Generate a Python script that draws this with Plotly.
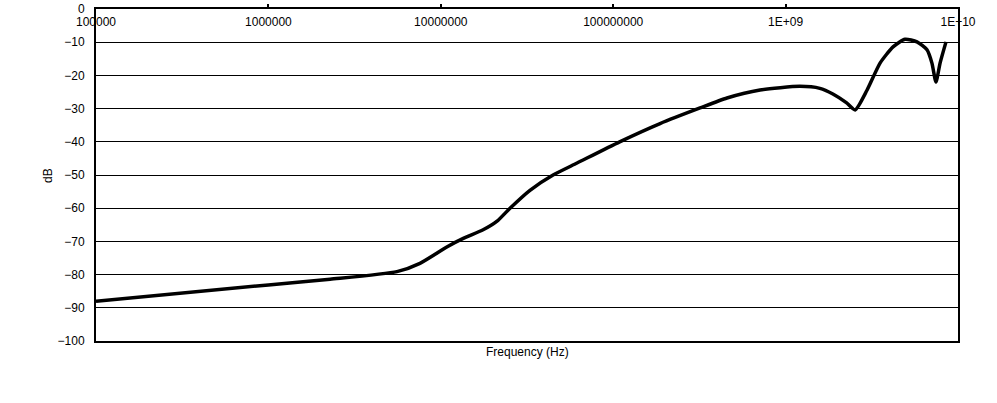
import plotly.graph_objects as go

freq_hz = [1e5, 1e6, 2.28e6, 5.57e6, 7.57e6, 1.09e7, 1.35e7, 1.76e7,
           2.12e7, 2.52e7, 3.29e7, 4.48e7, 6.17e7, 1.09e8, 1.87e8, 3.19e8, 4.57e8,
           7.11e8, 1.21e9, 1.58e9, 1.88e9, 2.25e9, 2.53e9, 2.97e9, 3.53e9, 4.2e9,
           4.93e9, 5.78e9, 6.61e9, 7.06e9, 7.45e9, 7.87e9, 8.52e9]
gain_db = [-88.0, -83.1, -81.4, -79.1, -76.6, -71.6, -69.1, -66.5,
           -63.9, -60.0, -54.6, -50.0, -46.4, -40.0, -34.5, -29.8, -26.8,
           -24.4, -23.3, -23.9, -25.6, -28.2, -30.4, -24.4, -16.3, -11.4,
           -9.1, -9.9, -12.3, -16.3, -22.0, -16.3, -9.9]

x_tick_vals = [1e5, 1e6, 1e7, 1e8, 1e9, 1e10]
x_tick_text = ["100000", "1000000", "10000000", "100000000", "1E+09", "1E+10"]
y_tick_vals = [0, -10, -20, -30, -40, -50, -60, -70, -80, -90, -100]

FONT = "Liberation Sans, Arial, sans-serif"
FS = 12

fig = go.Figure()
fig.add_trace(go.Scatter(
    x=freq_hz, y=gain_db, mode="lines",
    line=dict(color="black", width=3.5, shape="spline", smoothing=0.6),
    showlegend=False,
))

fig.update_layout(
    width=997, height=403,
    margin=dict(l=96, r=39, t=9, b=62),
    paper_bgcolor="white", plot_bgcolor="white",
    font=dict(family=FONT, size=FS, color="black"),
    xaxis=dict(
        type="log", range=[5, 10], side="top", automargin=False,
        tickvals=x_tick_vals, ticktext=x_tick_text,
        ticklabelposition="inside", ticklabeloverflow="allow",
        ticks="inside", ticklen=8, tickwidth=1, tickcolor="rgba(0,0,0,0)",
        minor=dict(tickvals=x_tick_vals, ticks="outside", ticklen=3,
                   tickwidth=1.5, tickcolor="black", showgrid=False),
        showgrid=False, zeroline=False,
        showline=True, linecolor="black", linewidth=2, mirror=True,
        tickfont=dict(family=FONT, size=FS, color="black"),
    ),
    yaxis=dict(
        range=[-100, 0.0001], tickvals=y_tick_vals, automargin=False,
        showgrid=True, gridcolor="black", gridwidth=1,
        zeroline=False, ticks="", ticklabelstandoff=7,
        showline=True, linecolor="black", linewidth=2, mirror=True,
        tickfont=dict(family=FONT, size=FS, color="black"),
    ),
    annotations=[
        dict(text="Frequency (Hz)", xref="paper", yref="paper", x=0.5, y=-0.033,
             xanchor="center", yanchor="middle", showarrow=False,
             font=dict(family=FONT, size=FS, color="black")),
        dict(text="dB", xref="paper", yref="paper", x=-0.0557, y=0.5,
             xanchor="center", yanchor="middle", showarrow=False, textangle=-90,
             font=dict(family=FONT, size=FS, color="black")),
    ],
)

fig.write_html("out.html", config={"displayModeBar": False},
               post_script="document.body.style.margin='0';")
